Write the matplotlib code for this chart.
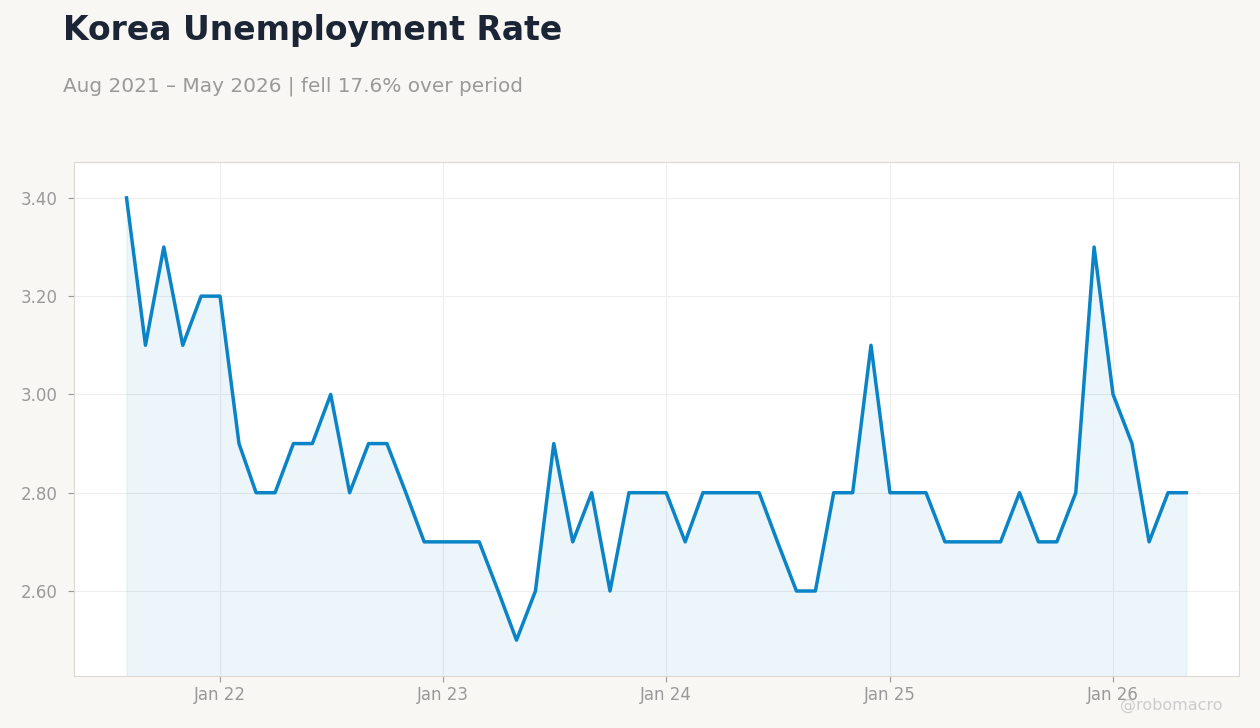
import pandas as pd
import matplotlib
matplotlib.use("Agg")
import matplotlib.pyplot as plt
import matplotlib.dates as mdates

dates = pd.date_range("2021-08-01", "2026-05-01", freq="MS")
rate = [3.4, 3.1, 3.3, 3.1, 3.2,
        3.2, 2.9, 2.8, 2.8, 2.9, 2.9, 3.0, 2.8, 2.9, 2.9, 2.8, 2.7,
        2.7, 2.7, 2.7, 2.6, 2.5, 2.6, 2.9, 2.7, 2.8, 2.6, 2.8, 2.8,
        2.8, 2.7, 2.8, 2.8, 2.8, 2.8, 2.7, 2.6, 2.6, 2.8, 2.8, 3.1,
        2.8, 2.8, 2.8, 2.7, 2.7, 2.7, 2.7, 2.8, 2.7, 2.7, 2.8, 3.3,
        3.0, 2.9, 2.7, 2.8, 2.8]

bg = "#f8f7f4"
line_c = "#0a84c6"
ymin, ymax = 2.427, 3.473

fig = plt.figure(figsize=(12.6, 7.28), dpi=100, facecolor=bg)
ax = fig.add_axes([0.0587, 0.0714, 0.9246, 0.7061])
ax.set_facecolor("white")

ax.fill_between(dates, rate, ymin, color=line_c, alpha=0.08, linewidth=0.8)
ax.plot(dates, rate, color=line_c, linewidth=2.5)

ax.set_ylim(ymin, ymax)
ax.set_xlim(pd.Timestamp("2021-05-07"), pd.Timestamp("2026-07-26"))
ax.set_yticks([2.6, 2.8, 3.0, 3.2, 3.4])
ax.yaxis.set_major_formatter(matplotlib.ticker.FormatStrFormatter("%.2f"))
ax.xaxis.set_major_locator(mdates.YearLocator())
ax.xaxis.set_major_formatter(mdates.DateFormatter("Jan %y"))

ax.grid(True, color="#eeeeee", linewidth=0.8)
ax.set_axisbelow(True)
for s in ax.spines.values():
    s.set_color("#ddd8d0")
ax.tick_params(colors="#999999", labelsize=12, length=4, width=0.8)
ax.tick_params(axis="y", pad=8)

fig.text(0.05, 0.958, "Korea Unemployment Rate", fontsize=23.8, fontweight="bold",
         color="#1c2536", va="center")
fig.text(0.05, 0.882, "Aug 2021 – May 2026 | fell 17.6% over period", fontsize=14.4,
         color="#999999", va="center")
fig.text(0.97, 0.031, "@robomacro", fontsize=11.5, color="#cccccc", ha="right", va="center")

plt.savefig("out.png", dpi=100, facecolor=bg)
